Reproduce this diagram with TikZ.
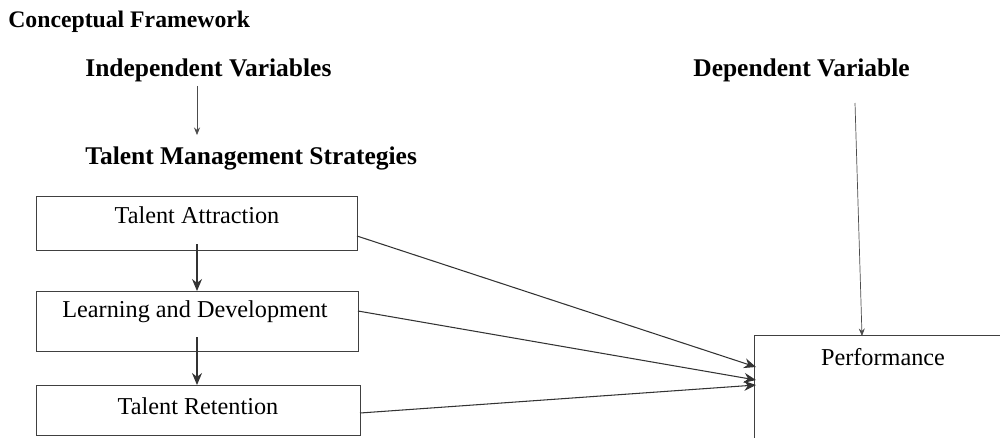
\documentclass[tikz,border=0pt]{standalone}
\usepackage{fontspec}
\setmainfont{Liberation Serif}
\usetikzlibrary{arrows.meta, positioning}

\begin{document}
\begin{tikzpicture}[x=0.02cm, y=-0.02cm]
        % Define styles
        \tikzstyle{heading} = [anchor=west, inner sep=0pt, font=\fontsize{14.5}{16}\selectfont\bfseries]
        \tikzstyle{strategy} = [rectangle, draw=black!75, line width=0.7pt, minimum width=6.42cm, inner sep=0pt, anchor=north west]
        \tikzstyle{label} = [inner sep=0pt, font=\fontsize{13.8}{15}\selectfont]
        \tikzstyle{arrow} = [-{Stealth[length=2.4mm, width=2mm]}, line width=0.6pt, black!80]
        \tikzstyle{thinarrow} = [-{Stealth[length=1.5mm, width=1.2mm]}, line width=0.4pt, black!70]

        \useasboundingbox (0,0) rectangle (1000,437);

        % Headings
        \node[heading, font=\fontsize{13.5}{15}\selectfont\bfseries] (title) at (8,22) {Conceptual Framework};
        \node[heading] (indep) at (85,70) {Independent Variables};
        \node[heading] (tms) at (85,158) {Talent Management Strategies};
        \node[heading] (dep) at (693,70) {Dependent Variable};

        % Strategy boxes
        \node[strategy, minimum height=1.08cm] (attr) at (36,196) {};
        \node[strategy, minimum height=1.2cm, minimum width=6.44cm] (learn) at (36,291) {};
        \node[strategy, minimum height=1.0cm, minimum width=6.48cm] (ret) at (36,385) {};
        \node[label] (attrtext) at (197,215) {Talent Attraction};
        \node[label] (learntext) at (195,312) {Learning and Development};
        \node[label] (rettext) at (198,406) {Talent Retention};

        % Performance box (runs off the page)
        \node[rectangle, draw=black!75, line width=0.7pt, minimum width=5.2cm, minimum height=2.4cm, inner sep=0pt, anchor=north west] (perf) at (754,335) {};
        \node[label] (perftext) at (883,357) {Performance};

        % Arrow ends
        \coordinate (from1) at (357,236);
        \coordinate (from2) at (358,311);
        \coordinate (from3) at (360,413);
        \coordinate (to1) at (756,367);
        \coordinate (to2) at (756,380);
        \coordinate (to3) at (756,385);
        \coordinate (depstart) at (855,103);
        \coordinate (depend) at (862,336);

        % Connections
        \draw[thinarrow] (indep.south -| 197,0) ++(0,4) -- (197,135);
        \draw[arrow] (197,244) -- (learn.north -| 197,0);
        \draw[arrow] (197,337) -- (ret.north -| 197,0);
        \draw[arrow] (from1) -- (to1);
        \draw[arrow] (from2) -- (to2);
        \draw[arrow] (from3) -- (to3);
        \draw[thinarrow] (depstart) -- (depend);

    \end{tikzpicture}
\end{document}
